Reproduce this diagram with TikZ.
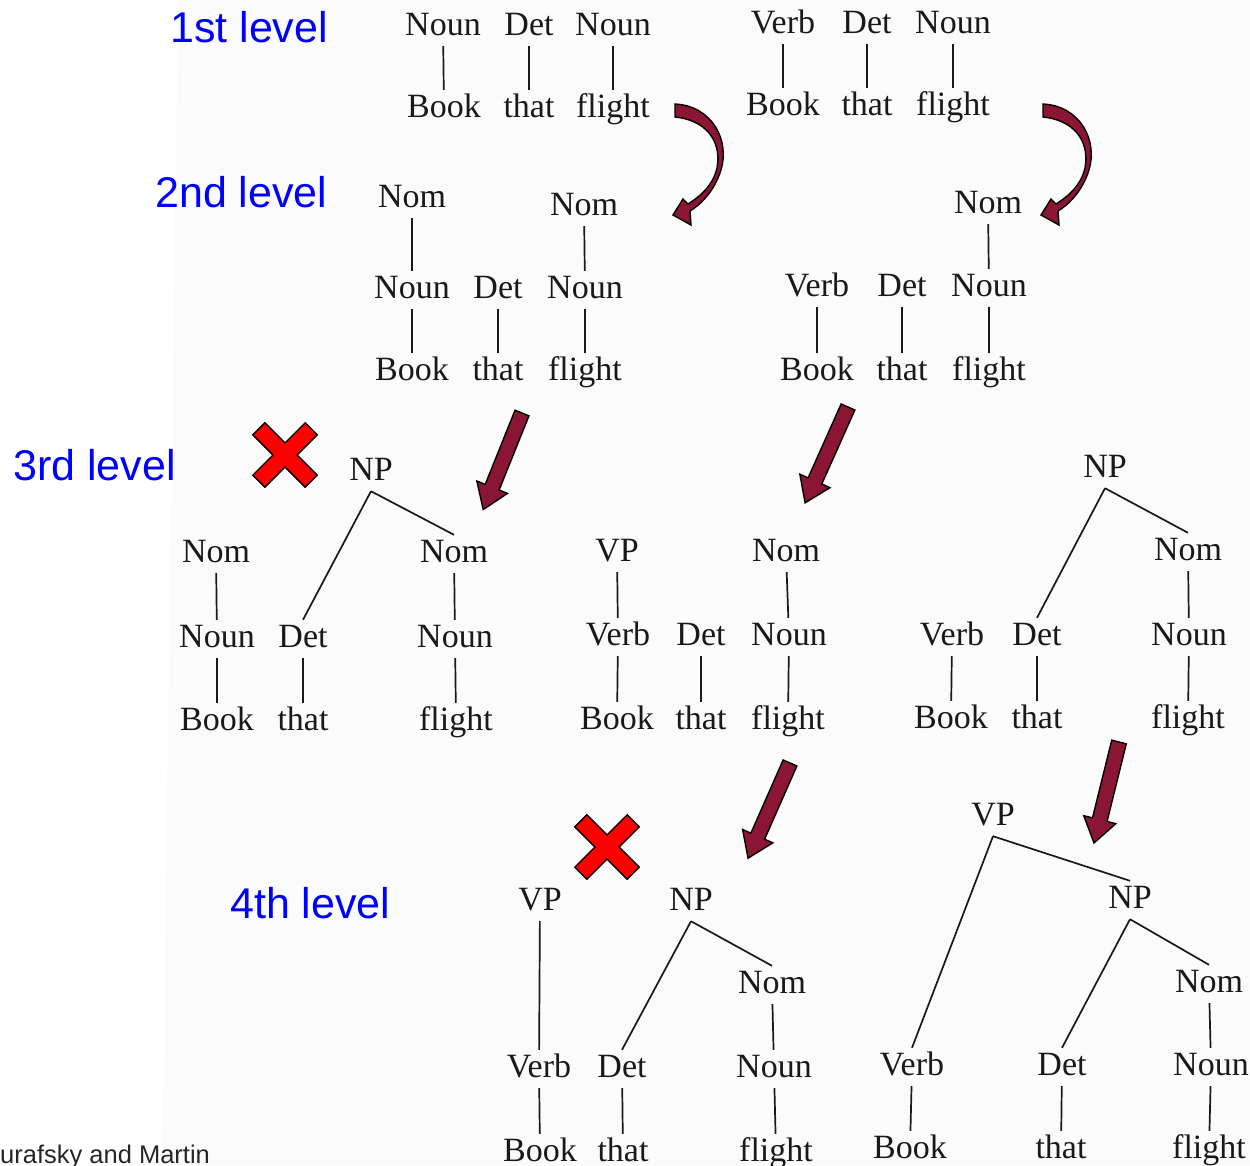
\documentclass[tikz,border=0pt]{standalone}
\usepackage{fontspec}
\setmainfont{Liberation Serif}
\newfontfamily\lblfont{Liberation Sans}
\definecolor{lvlblue}{RGB}{0,0,255}
\definecolor{arrowred}{RGB}{139,21,52}
\definecolor{xred}{RGB}{255,0,0}
\definecolor{scan}{RGB}{251,251,251}
\definecolor{ink}{RGB}{25,25,25}
\tikzset{
  w/.style={anchor=base, inner xsep=0pt, inner ysep=4pt, text height=23pt, text depth=7pt,
            font=\fontsize{34}{34}\selectfont, text=ink},
  br/.style={draw=ink, line width=1.7pt},
  lvl/.style={anchor=base west, inner sep=0pt, font=\lblfont\fontsize{43}{43}\selectfont, text=lvlblue},
  fat/.style={fill=arrowred, draw=black, line width=1.4pt, line join=miter},
  xm/.style={fill=xred, draw=black, line width=1.4pt, line join=miter},
}
\newcommand\mystraightarrow[3]{%
  \begin{scope}[shift={#1}, rotate=#2]
    \draw[fat] (0,-7.5) -- (#3-24,-7.5) -- (#3-24,-16.5) -- (#3,0) -- (#3-24,16.5) -- (#3-24,7.5) -- (0,7.5) -- cycle;
  \end{scope}}
\newcommand\mycurvarrow[1]{%
  \begin{scope}[shift={#1}]
    \draw[fat] (0,0) .. controls (37,2) and (55,36) .. (46,66)
      .. controls (39,88) and (25,101) .. (15,107) -- (16,121) -- (-2,111) -- (8,95) -- (13,100)
      .. controls (26,92) and (38,81) .. (42,64) .. controls (47,36) and (30,16) .. (0,13) -- cycle;
  \end{scope}}
\newcommand\myxmark[1]{%
  \begin{scope}[shift={#1}, rotate=45]
    \draw[xm] (8.5,8.5) -- (37,8.5) -- (37,-8.5) -- (8.5,-8.5) -- (8.5,-37) -- (-8.5,-37) -- (-8.5,-8.5)
      -- (-37,-8.5) -- (-37,8.5) -- (-8.5,8.5) -- (-8.5,37) -- (8.5,37) -- cycle;
  \end{scope}}
\begin{document}
\begin{tikzpicture}[x=1pt, y=-1pt]
\useasboundingbox (0,0) rectangle (1250,1165);
\fill[scan] (178,0) -- (1250,0) -- (1250,1165) -- (162,1165) -- cycle;

% level labels
\node[lvl] (l1) at (170,42) {1st level};
\node[lvl] (l2) at (155,207) {2nd level};
\node[lvl] (l3) at (13,480) {3rd level};
\node[lvl] (l4) at (230,918) {4th level};
\node[anchor=base west, inner sep=0pt, font=\lblfont\fontsize{25.5}{25.5}\selectfont, text=black!85] (src) at (0,1163) {urafsky and Martin};

% ---- level 1, tree A
\node[w] (aN1) at (443,35) {Noun};
\node[w] (aD)  at (529,35) {Det};
\node[w] (aN2) at (613,35) {Noun};
\node[w] (aB)  at (444,117) {Book};
\node[w] (aT)  at (529,117) {that};
\node[w] (aF)  at (613,117) {flight};
\draw[br] (aN1)--(aB) (aD)--(aT) (aN2)--(aF);
% ---- level 1, tree B
\node[w] (bV)  at (783,33) {Verb};
\node[w] (bD)  at (867,33) {Det};
\node[w] (bN)  at (953,33) {Noun};
\node[w] (bB)  at (783,115) {Book};
\node[w] (bT)  at (867,115) {that};
\node[w] (bF)  at (953,115) {flight};
\draw[br] (bV)--(bB) (bD)--(bT) (bN)--(bF);

% ---- level 2, tree C
\node[w] (cM1) at (412,207) {Nom};
\node[w] (cM2) at (584,215) {Nom};
\node[w] (cN1) at (412,298) {Noun};
\node[w] (cD)  at (498,298) {Det};
\node[w] (cN2) at (585,298) {Noun};
\node[w] (cB)  at (412,380) {Book};
\node[w] (cT)  at (498,380) {that};
\node[w] (cF)  at (585,380) {flight};
\draw[br] (cM1)--(cN1) (cM2)--(cN2) (cN1)--(cB) (cD)--(cT) (cN2)--(cF);
% ---- level 2, tree D
\node[w] (dM)  at (988,213) {Nom};
\node[w] (dV)  at (817,296) {Verb};
\node[w] (dD)  at (902,296) {Det};
\node[w] (dN)  at (989,296) {Noun};
\node[w] (dB)  at (817,380) {Book};
\node[w] (dT)  at (902,380) {that};
\node[w] (dF)  at (989,380) {flight};
\draw[br] (dM)--(dN) (dV)--(dB) (dD)--(dT) (dN)--(dF);

% ---- level 3, tree E
\node[w] (eNP) at (371,480) {NP};
\node[w] (eM1) at (216,562) {Nom};
\node[w] (eM2) at (454,562) {Nom};
\node[w] (eN1) at (217,647) {Noun};
\node[w] (eD)  at (303,647) {Det};
\node[w] (eN2) at (455,647) {Noun};
\node[w] (eB)  at (217,730) {Book};
\node[w] (eT)  at (303,730) {that};
\node[w] (eF)  at (456,730) {flight};
\draw[br] (eNP.south) -- (eD.north) (eNP.south) -- (eM2.north);
\draw[br] (eM1)--(eN1) (eN1)--(eB) (eD)--(eT) (eM2)--(eN2) (eN2)--(eF);
% ---- level 3, tree F
\node[w] (fVP) at (617,561) {VP};
\node[w] (fM)  at (786,561) {Nom};
\node[w] (fV)  at (618,645) {Verb};
\node[w] (fD)  at (701,645) {Det};
\node[w] (fN)  at (789,645) {Noun};
\node[w] (fB)  at (617,729) {Book};
\node[w] (fT)  at (701,729) {that};
\node[w] (fF)  at (788,729) {flight};
\draw[br] (fVP)--(fV) (fM)--(fN) (fV)--(fB) (fD)--(fT) (fN)--(fF);
% ---- level 3, tree G
\node[w] (gNP) at (1105,477) {NP};
\node[w] (gM)  at (1188,560) {Nom};
\node[w] (gV)  at (952,645) {Verb};
\node[w] (gD)  at (1037,645) {Det};
\node[w] (gN)  at (1189,645) {Noun};
\node[w] (gB)  at (951,728) {Book};
\node[w] (gT)  at (1037,728) {that};
\node[w] (gF)  at (1188,728) {flight};
\draw[br] (gNP.south) -- (gD.north) (gNP.south) -- (gM.north);
\draw[br] (gM)--(gN) (gV)--(gB) (gD)--(gT) (gN)--(gF);

% ---- level 4, tree H
\node[w] (hVP) at (540,910) {VP};
\node[w] (hNP) at (691,910) {NP};
\node[w] (hM)  at (772,993) {Nom};
\node[w] (hV)  at (539,1077) {Verb};
\node[w] (hD)  at (622,1077) {Det};
\node[w] (hN)  at (774,1077) {Noun};
\node[w] (hB)  at (540,1161) {Book};
\node[w] (hT)  at (623,1161) {that};
\node[w] (hF)  at (776,1161) {flight};
\draw[br] (hNP.south) -- (hD.north) (hNP.south) -- (hM.north);
\draw[br] (hVP)--(hV) (hM)--(hN) (hV)--(hB) (hD)--(hT) (hN)--(hF);
% ---- level 4, tree I
\node[w] (iVP) at (993,825) {VP};
\node[w] (iNP) at (1130,908) {NP};
\node[w] (iM)  at (1209,992) {Nom};
\node[w] (iV)  at (912,1075) {Verb};
\node[w] (iD)  at (1062,1075) {Det};
\node[w] (iN)  at (1211,1075) {Noun};
\node[w] (iB)  at (910,1158) {Book};
\node[w] (iT)  at (1061,1158) {that};
\node[w] (iF)  at (1209,1158) {flight};
\draw[br] (iVP.south) -- (iV.north) (iVP.south) -- (iNP.north);
\draw[br] (iNP.south) -- (iD.north) (iNP.south) -- (iM.north);
\draw[br] (iM)--(iN) (iV)--(iB) (iD)--(iT) (iN)--(iF);

% ---- arrows
\mycurvarrow{(675,104)}
\mycurvarrow{(1043,104)}
\mystraightarrow{(522,413)}{248.1}{104}
\mystraightarrow{(848,407)}{245.9}{105}
\mystraightarrow{(790,763)}{246.2}{104}
\mystraightarrow{(1119,742)}{256.1}{104}

% ---- crosses
\myxmark{(285,455)}
\myxmark{(607,847)}
\end{tikzpicture}
\end{document}
